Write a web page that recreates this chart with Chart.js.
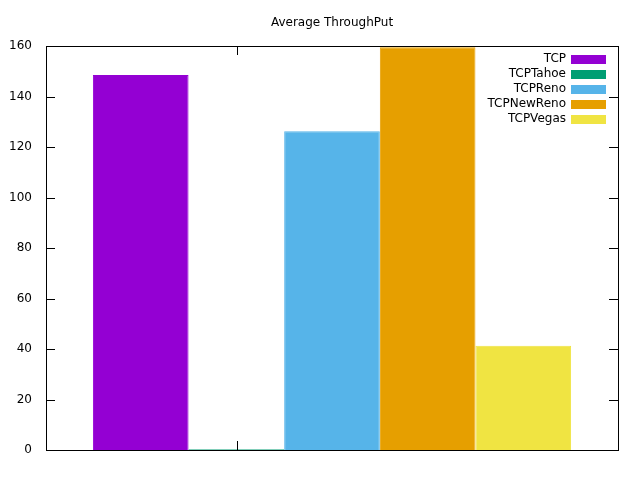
<!DOCTYPE html>
<html><head><meta charset="utf-8">
<script src="https://cdn.jsdelivr.net/npm/chart.js@4"></script>
<style>body{margin:0;background:#fff}#w{width:640px;height:480px}</style>
</head><body><div id="w"><canvas id="c"></canvas></div>
<script>
// data
const categories = [''];
const seriesNames = ['TCP', 'TCPTahoe', 'TCPReno', 'TCPNewReno', 'TCPVegas'];
const seriesValues = [148.5, 0.3, 126.2, 159.5, 41.3];
const colors = ['#9400d3', '#009e73', '#56b4e9', '#e69f00', '#f0e442'];
const yTicks = [0, 20, 40, 60, 80, 100, 120, 140, 160];

const FONT = '12px "DejaVu Sans", sans-serif';

const frame = {
  id: 'frame',
  afterDraw(chart) {
    const { ctx, chartArea: a, scales: { y } } = chart;
    ctx.save();
    ctx.strokeStyle = '#000';
    ctx.lineWidth = 1;
    ctx.strokeRect(a.left + 0.5, a.top + 0.5, a.right - a.left, a.bottom - a.top);
    // inward ticks on both sides
    ctx.beginPath();
    yTicks.forEach(v => {
      const py = Math.round(y.getPixelForValue(v)) + 0.5;
      ctx.moveTo(a.left, py); ctx.lineTo(a.left + 9, py);
      ctx.moveTo(a.right, py); ctx.lineTo(a.right - 9, py);
    });
    const cx = Math.round((a.left + a.right) / 2 - 95) + 0.5;
    ctx.moveTo(cx, a.bottom); ctx.lineTo(cx, a.bottom - 9);
    ctx.moveTo(cx, a.top); ctx.lineTo(cx, a.top + 9);
    ctx.stroke();
    // title
    ctx.fillStyle = '#000';
    ctx.font = FONT;
    ctx.textAlign = 'center';
    ctx.textBaseline = 'middle';
    ctx.fillText('Average ThroughPut', 332, 23);
    // legend
    ctx.textAlign = 'right';
    seriesNames.forEach((n, i) => {
      const ly = 59 + i * 15;
      ctx.fillStyle = '#000';
      ctx.fillText(n, 566, ly);
      ctx.fillStyle = colors[i];
      ctx.fillRect(571, ly - 4, 35, 9);
    });
    ctx.restore();
  }
};

new Chart(document.getElementById('c'), {
  type: 'bar',
  data: {
    labels: categories,
    datasets: seriesNames.map((n, i) => ({
      label: n,
      data: [seriesValues[i]],
      backgroundColor: colors[i],
      borderColor: colors[i],
      borderWidth: 1,
      barPercentage: 1,
      categoryPercentage: 0.836
    }))
  },
  options: {
    responsive: true,
    maintainAspectRatio: false,
    animation: false,
    layout: { padding: { top: 46, right: 22, bottom: 30, left: 0 } },
    plugins: { legend: { display: false }, title: { display: false }, tooltip: { enabled: false } },
    scales: {
      x: { display: false },
      y: {
        min: 0, max: 160,
        afterFit: s => { s.width = 46; },
        afterBuildTicks: s => { s.ticks = yTicks.map(v => ({ value: v })); },
        grid: { display: false },
        border: { display: false },
        ticks: { color: '#000', font: { family: '"DejaVu Sans", sans-serif', size: 12 }, padding: 6 }
      }
    }
  },
  plugins: [frame]
});
</script></body></html>
